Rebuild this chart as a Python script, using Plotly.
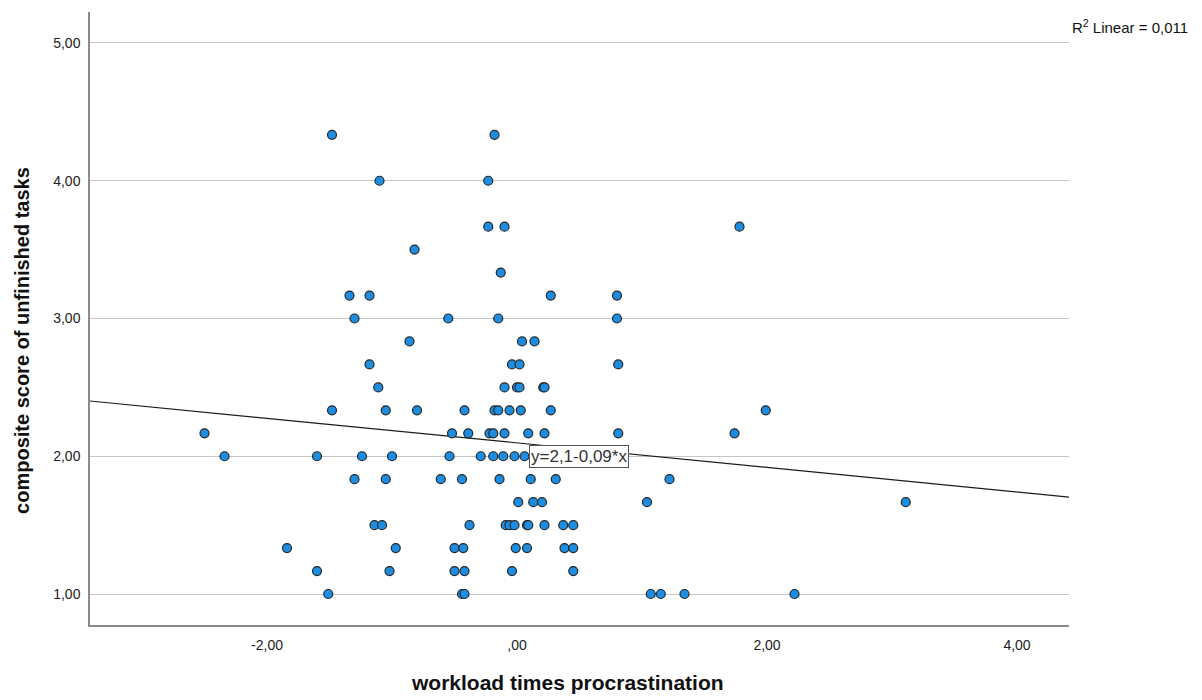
import plotly.graph_objects as go

# ---- data ----
row_4_333 = [-1.48, -0.18]
row_4_000 = [-1.10, -0.23]
row_3_667 = [-0.23, -0.10, 1.78]
row_3_500 = [-0.82]
row_3_333 = [-0.13]
row_3_167 = [-1.34, -1.18, 0.27, 0.80]
row_3_000 = [-1.30, -0.55, -0.15, 0.80]
row_2_833 = [-0.86, 0.04, 0.14]
row_2_667 = [-1.18, -0.04, 0.02, 0.81]
row_2_500 = [-1.11, -0.10, 0.00, 0.02, 0.21, 0.22]
row_2_333 = [-1.48, -1.05, -0.80, -0.42, -0.18, -0.15, -0.06, 0.03, 0.27, 1.99]
row_2_167 = [-2.50, -0.52, -0.39, -0.22, -0.19, -0.10, 0.09, 0.22, 0.81, 1.74]
row_2_000 = [-2.34, -1.60, -1.24, -1.00, -0.54, -0.29, -0.19, -0.11, -0.02, 0.06]
row_1_833 = [-1.30, -1.05, -0.61, -0.44, -0.14, 0.11, 0.31, 1.22]
row_1_667 = [0.01, 0.13, 0.20, 1.04, 3.11]
row_1_500 = [-1.14, -1.08, -0.38, -0.09, -0.06, -0.02, 0.08, 0.09, 0.22, 0.37, 0.45]
row_1_333 = [-1.84, -0.97, -0.50, -0.43, -0.01, 0.08, 0.38, 0.45]
row_1_167 = [-1.60, -1.02, -0.50, -0.42, -0.04, 0.45]
row_1_000 = [-1.51, -0.44, -0.42, 1.07, 1.15, 1.34, 2.22]

rows = {
    13 / 3: row_4_333, 4.0: row_4_000, 11 / 3: row_3_667, 3.5: row_3_500,
    10 / 3: row_3_333, 19 / 6: row_3_167, 3.0: row_3_000, 17 / 6: row_2_833,
    8 / 3: row_2_667, 2.5: row_2_500, 7 / 3: row_2_333, 13 / 6: row_2_167,
    2.0: row_2_000, 11 / 6: row_1_833, 5 / 3: row_1_667, 1.5: row_1_500,
    4 / 3: row_1_333, 7 / 6: row_1_167, 1.0: row_1_000,
}

x_vals, y_vals = [], []
for yv, xs in rows.items():
    for xv in xs:
        x_vals.append(xv)
        y_vals.append(yv)

REG_INTERCEPT = 2.097
REG_SLOPE = -0.089
EQ_LABEL = "y=2,1-0,09*x"
R2_LABEL = "R<sup>2</sup> Linear = 0,011"

x_tickvals = [-2, 0, 2, 4]
x_ticktext = ["-2,00", ",00", "2,00", "4,00"]
y_tickvals = [1, 2, 3, 4, 5]
y_ticktext = ["1,00", "2,00", "3,00", "4,00", "5,00"]

X_RANGE = [-3.416, 4.416]
Y_RANGE = [0.775, 5.225]

fig = go.Figure()

fig.add_trace(go.Scatter(
    x=X_RANGE,
    y=[REG_INTERCEPT + REG_SLOPE * X_RANGE[0], REG_INTERCEPT + REG_SLOPE * X_RANGE[1]],
    mode="lines", line=dict(color="#1a1a1a", width=1.2),
    hoverinfo="skip", showlegend=False, cliponaxis=True,
))

fig.add_trace(go.Scatter(
    x=x_vals, y=y_vals, mode="markers",
    marker=dict(size=9, color="#1c8de0", line=dict(color="#262626", width=1.2)),
    showlegend=False, cliponaxis=False,
))

font_family = "Liberation Sans, Arial, sans-serif"

fig.update_layout(
    width=1202, height=700,
    margin=dict(l=90, r=133, t=12, b=75),
    paper_bgcolor="white", plot_bgcolor="white",
    font=dict(family=font_family, size=13, color="#222222"),
    xaxis=dict(
        range=X_RANGE, tickvals=x_tickvals, ticktext=x_ticktext,
        showgrid=False, zeroline=False, showline=True, linecolor="#8c8c8c", linewidth=1.5,
        ticks="", ticklabelstandoff=6,
        tickfont=dict(size=14, color="#222222", family=font_family),
    ),
    yaxis=dict(
        range=Y_RANGE, tickvals=y_tickvals, ticktext=y_ticktext,
        showgrid=True, gridcolor="#c6c6c6", gridwidth=1.2, zeroline=False,
        showline=True, linecolor="#8c8c8c", linewidth=1.5,
        ticks="", ticklabelstandoff=5,
        tickfont=dict(size=14, color="#222222", family=font_family),
    ),
    annotations=[
        dict(text=EQ_LABEL, x=0.496, y=2.0, xref="x", yref="y",
             showarrow=False, bgcolor="white", bordercolor="#555555", borderwidth=1,
             borderpad=1, font=dict(size=17, color="#333333", family=font_family)),
        dict(text=R2_LABEL, x=1.001, y=0.976, xref="paper", yref="paper",
             xanchor="left", yanchor="middle", showarrow=False,
             font=dict(size=15, color="#111111", family=font_family)),
        dict(text="<b>workload times procrastination</b>", x=0.488, y=-0.0946,
             xref="paper", yref="paper", showarrow=False, xanchor="center", yanchor="middle",
             font=dict(size=21, color="#111111", family=font_family)),
        dict(text="<b>composite score of unfinished tasks</b>", x=-0.0695, y=0.465,
             xref="paper", yref="paper", showarrow=False, textangle=-90,
             xanchor="center", yanchor="middle",
             font=dict(size=20, color="#111111", family=font_family)),
    ],
)

fig.write_html("out.html")
